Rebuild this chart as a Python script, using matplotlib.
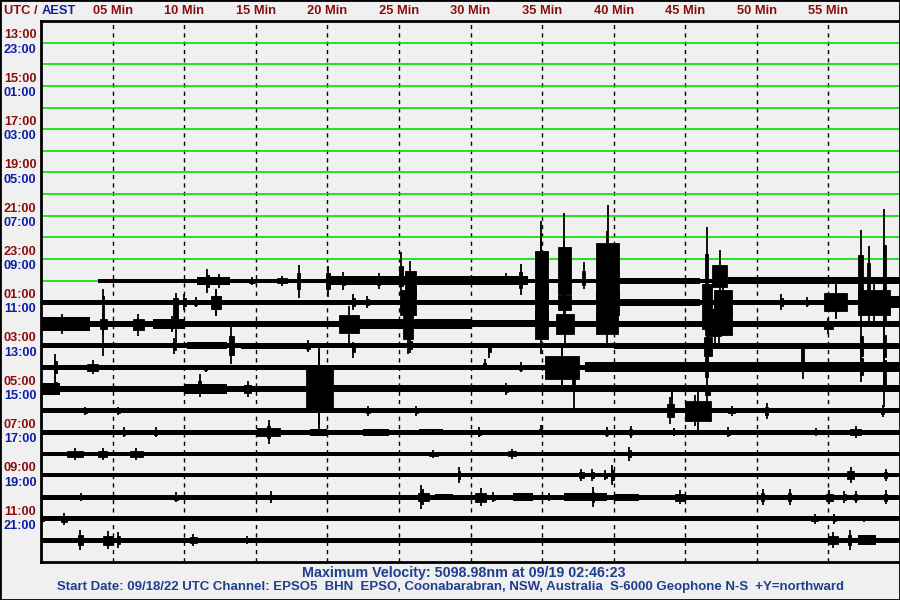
import matplotlib
matplotlib.use("Agg")
import matplotlib.pyplot as plt
import matplotlib.transforms as mtransforms
from matplotlib.patches import Rectangle

plt.rcParams['font.family'] = ['Liberation Sans', 'DejaVu Sans']

# helicorder layout: 24 one-hour rows, UTC 13:00 (day 1) .. 12:00 (day 2)
utc_labels = ['13:00', '15:00', '17:00', '19:00', '21:00', '23:00',
              '01:00', '03:00', '05:00', '07:00', '09:00', '11:00']
aest_labels = ['23:00', '01:00', '03:00', '05:00', '07:00', '09:00',
               '11:00', '13:00', '15:00', '17:00', '19:00', '21:00']
minute_ticks = [5, 10, 15, 20, 25, 30, 35, 40, 45, 50, 55]

n_rows = 24
first_data_row = 11      # row of 00:00 UTC
data_start_min = 3.95    # recording starts at 00:03:57 UTC

# base trace half-thickness per data row (amplitude units)
base_amp = [2, 2.5, 3, 2.5, 2.5, 3, 2.5, 2.5, 2, 2, 2.5, 2.5, 2.5]

# noisy sections: (start min, end min, half amplitude)
noise = {
    0: [(10.9, 13.2, 4), (20.2, 34.0, 4.5), (40.4, 46.0, 3), (48.0, 60.0, 3.5)],
    1: [(40.4, 46.0, 3.5), (57.1, 60.0, 6)],
    2: [(0.0, 3.4, 7), (7.8, 10.0, 5), (22.2, 30.0, 5), (30.0, 34.5, 3.5), (40.0, 60.0, 3)],
    3: [(10.2, 13.0, 3.5), (14.0, 18.5, 3), (40.0, 60.0, 3)],
    4: [(38.0, 60.0, 5)],
    5: [(0.0, 1.3, 6), (10.0, 13.0, 5), (20.4, 37.0, 3.5), (37.0, 60.0, 3.5)],
    6: [],
    7: [(18.8, 20.0, 3.5), (22.5, 24.3, 3.5), (26.4, 28.1, 3)],
    8: [],
    9: [],
    10: [(27.5, 28.8, 3), (33.0, 34.4, 4), (36.5, 39.5, 4), (40.0, 41.8, 3.5)],
    11: [],
    12: [(57.1, 58.3, 5)],
}

# bursts and spikes: (start min, end min, peak upward, peak downward)
bursts = {
    0: [(11.5, 11.7, 12, 12), (12.3, 12.5, 7, 7), (14.5, 15.0, 4, 4), (16.5, 17.2, 5, 5),
        (17.9, 18.1, 16, 17), (19.9, 20.2, 15, 16), (21.0, 21.2, 9, 9), (23.5, 23.7, 8, 8),
        (25.0, 25.3, 29, 10), (25.4, 26.2, 20, 30), (32.3, 32.7, 8, 3), (33.4, 33.6, 17, 14),
        (34.5, 35.4, 60, 50), (34.8, 35.1, 45, 40), (36.1, 37.0, 68, 26), (36.3, 36.7, 40, 20),
        (37.8, 38.0, 19, 8), (38.8, 40.4, 76, 39), (39.2, 39.8, 50, 30), (46.4, 46.6, 54, 50),
        (46.9, 47.9, 31, 12), (57.1, 57.4, 51, 40), (57.7, 57.9, 35, 30), (58.8, 59.0, 72, 90)],
    1: [(4.3, 4.4, 13, 54), (9.2, 9.6, 9, 40), (9.9, 10.1, 8, 8), (10.7, 10.9, 5, 5),
        (11.9, 12.6, 13, 14), (12.0, 12.5, 12, 13), (21.7, 21.9, 8, 8), (22.7, 22.9, 6, 6),
        (25.1, 26.2, 25, 25), (34.5, 35.4, 30, 35), (36.1, 37.0, 15, 15), (38.8, 40.4, 22, 25),
        (46.2, 46.9, 37, 53), (47.0, 48.3, 25, 25), (51.6, 51.8, 8, 8), (53.4, 53.6, 5, 5),
        (54.7, 56.3, 18, 17), (54.9, 56.1, 17, 16), (57.1, 59.3, 25, 25), (57.6, 58.0, 20, 22)],
    2: [(0.5, 2.5, 10, 10), (4.1, 4.6, 10, 10), (6.4, 7.2, 10, 12), (8.5, 9.8, 8, 8),
        (20.8, 22.2, 18, 19), (25.3, 26.0, 30, 30), (34.5, 35.4, 25, 30), (36.0, 37.2, 20, 20),
        (38.8, 40.3, 22, 20), (46.4, 48.3, 30, 22), (46.6, 47.5, 28, 25), (54.7, 55.3, 6, 10)],
    3: [(9.2, 9.4, 8, 8), (13.1, 13.5, 20, 18), (18.5, 18.8, 6, 6), (21.7, 21.9, 4, 12),
        (25.7, 25.9, 10, 7), (31.2, 31.4, 3, 12), (46.3, 46.9, 17, 20), (53.1, 53.3, 3, 33),
        (57.2, 57.4, 20, 20), (58.8, 59.0, 22, 22)],
    4: [(0.9, 1.1, 13, 12), (3.2, 4.0, 7, 7), (11.4, 11.6, 2, 5), (30.9, 31.1, 8, 3),
        (33.4, 33.6, 5, 5), (35.2, 37.6, 22, 24), (35.5, 37.3, 20, 22), (37.1, 37.3, 5, 45),
        (46.4, 46.6, 20, 20), (57.2, 57.4, 18, 15), (58.8, 59.0, 15, 40)],
    5: [(0.9, 1.1, 13, 6), (11.0, 11.2, 15, 8), (14.2, 14.7, 8, 8), (18.5, 20.4, 42, 41),
        (18.8, 20.1, 38, 36), (32.4, 32.6, 6, 6), (44.0, 44.1, 3, 18), (46.4, 46.7, 4, 12)],
    6: [(3.0, 3.2, 4, 4), (5.3, 5.5, 4, 4), (22.7, 23.0, 5, 5), (26.1, 26.3, 5, 5),
        (43.7, 44.2, 13, 13), (45.0, 46.8, 20, 20), (45.4, 45.9, 15, 15), (48.0, 48.5, 5, 5),
        (50.6, 50.8, 8, 8), (58.7, 58.9, 6, 6)],
    7: [(5.7, 5.9, 5, 5), (7.9, 8.1, 5, 5), (15.1, 16.7, 8, 8), (15.8, 16.0, 12, 12),
        (30.5, 30.7, 5, 5), (34.8, 35.0, 7, 2), (39.4, 39.6, 5, 5), (41.1, 41.3, 6, 6),
        (44.1, 44.3, 4, 4), (47.9, 48.1, 5, 5), (53.8, 54.5, 4, 4), (56.5, 57.3, 6, 6)],
    8: [(1.8, 2.9, 6, 6), (4.0, 4.6, 6, 6), (6.2, 7.1, 6, 6), (27.1, 27.7, 4, 4),
        (32.6, 33.2, 5, 5), (41.0, 41.2, 7, 7)],
    9: [(29.1, 29.3, 8, 8), (37.6, 37.9, 6, 6), (38.4, 38.6, 6, 6), (39.3, 39.5, 5, 5),
        (39.8, 40.0, 10, 10), (56.3, 56.8, 8, 8), (58.9, 59.1, 6, 6)],
    10: [(2.7, 2.9, 4, 4), (9.3, 9.6, 5, 5), (16.0, 16.1, 6, 6), (26.3, 27.1, 8, 8),
         (26.5, 26.6, 12, 12), (30.3, 31.1, 9, 9), (31.5, 31.7, 5, 5), (35.4, 35.6, 4, 4),
         (38.5, 38.6, 10, 10), (44.3, 45.0, 7, 7), (50.3, 50.5, 8, 8), (52.2, 52.4, 8, 8),
         (54.8, 55.3, 7, 7), (56.0, 56.2, 6, 6), (56.8, 57.0, 6, 6), (58.9, 59.1, 7, 7)],
    11: [(0.0, 0.2, 5, 5), (1.4, 1.8, 6, 6), (53.8, 54.3, 5, 5), (55.3, 55.5, 5, 5),
         (57.4, 57.6, 3, 3)],
    12: [(2.6, 2.9, 10, 10), (4.3, 5.0, 9, 9), (5.3, 5.5, 8, 8), (10.4, 10.9, 6, 6),
         (14.3, 14.5, 4, 4), (55.0, 55.7, 8, 8), (56.4, 56.6, 10, 10)],
}

bg = '#f0f0f0'
red = '#8b0c0c'
blue = '#0c1ca8'
foot = '#1f3f8f'
green = '#00e000'
amp_scale = 1 / 21.6   # amplitude units -> row spacing
body = 0.5             # burst body height relative to its peak

fig = plt.figure(figsize=(9, 6), dpi=100, facecolor=bg)
ax = fig.add_axes([41 / 900, 38 / 600, 859 / 900, 541 / 600], facecolor=bg)
ax.set_xlim(0, 60)
ax.set_ylim(24, -1)
ax.set_xticks([])
ax.set_yticks([])
for side in ['top', 'left', 'bottom']:
    ax.spines[side].set_linewidth(2)
ax.spines['right'].set_visible(False)

for m in minute_ticks:
    ax.axvline(m, color='black', lw=1, ls=(0, (3, 3)), zorder=1)

# empty rows in green
for r in range(first_data_row):
    ax.axhline(r, color=green, lw=1.2, zorder=2)
ax.plot([0, data_start_min], [first_data_row] * 2, color=green, lw=1.2, zorder=2)

for i in range(len(base_amp)):
    y = first_data_row + i
    t0 = data_start_min if i == 0 else 0
    b = base_amp[i] * amp_scale
    ax.add_patch(Rectangle((t0, y - b), 60 - t0, 2 * b, color='black', lw=0, zorder=3))
    for s, e, a in noise[i]:
        s = max(s, t0)
        ax.add_patch(Rectangle((s, y - a * amp_scale), e - s, 2 * a * amp_scale,
                               color='black', lw=0, zorder=3))
    for s, e, up, dn in bursts[i]:
        mid = (s + e) / 2
        ax.add_patch(Rectangle((s, y - body * up * amp_scale), e - s,
                               body * (up + dn) * amp_scale, facecolor='black',
                               edgecolor='black', lw=0.6, zorder=3, clip_on=False))
        ax.plot([mid, mid], [y - up * amp_scale, y + dn * amp_scale], color='black',
                lw=1.3, zorder=3, clip_on=False, solid_capstyle='butt')

# row labels (UTC in red above, AEST in blue below)
lab_tr = mtransforms.blended_transform_factory(fig.transFigure, ax.transData)
for k in range(len(utc_labels)):
    r = 2 * k
    ax.text(4 / 900, r - 0.33, utc_labels[k], transform=lab_tr, color=red,
            fontsize=9.2, fontweight='bold', ha='left', va='center', clip_on=False)
    ax.text(4 / 900, r + 0.33, aest_labels[k], transform=lab_tr, color=blue,
            fontsize=9.2, fontweight='bold', ha='left', va='center', clip_on=False)

# minute labels on top
top_tr = mtransforms.blended_transform_factory(ax.transData, fig.transFigure)
for m in minute_ticks:
    ax.text(m, 1 - 11 / 600, '%02d Min' % m, transform=top_tr, color=red,
            fontsize=9.3, fontweight='bold', ha='center', va='center', clip_on=False)
fig.text(4 / 900, 1 - 11 / 600, 'UTC / ', color=red, fontsize=9.3,
         fontweight='bold', ha='left', va='center')
fig.text(42 / 900, 1 - 11 / 600, 'AEST', color=blue, fontsize=9.3,
         fontweight='bold', ha='left', va='center')

fig.text(464 / 900, 1 - 573 / 600, 'Maximum Velocity: 5098.98nm at 09/19 02:46:23',
         color=foot, fontsize=10.3, fontweight='bold', ha='center', va='center')
fig.text(451 / 900, 1 - 587 / 600,
         'Start Date: 09/18/22 UTC Channel: EPSO5  BHN  EPSO, Coonabarabran, NSW, Australia  '
         'S-6000 Geophone N-S  +Y=northward',
         color=foot, fontsize=9.5, fontweight='bold', ha='center', va='center')

fig.add_artist(Rectangle((0, 0), 1, 1, transform=fig.transFigure, fill=False,
                         edgecolor='black', lw=2))

fig.savefig('out.png', dpi=100, facecolor=bg)
